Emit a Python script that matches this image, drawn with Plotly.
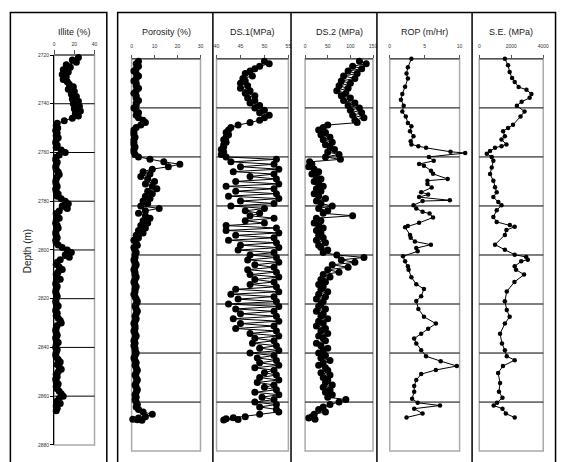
import plotly.graph_objects as go

W, H = 564, 462

# ---------------- data ----------------
DEPTH = list(range(2721, 2867))  # 1 m sampling grid for the dense logs

ILLITE = [
    24, 18, 22, 12, 16, 9, 14, 8, 12, 9,
    13, 15, 19, 14, 20, 17, 22, 18, 24, 19,
    25, 20, 26, 21, 24, 18, 10, 3, 2, 3.5,
    1.5, 3, 2, 4, 2, 1.5, 3, 2, 7, 11,
    5, 2, 1.5, 3, 2, 1.5, 2, 4, 5, 3,
    2, 1.5, 2, 3, 1.5, 2, 4, 3, 7, 11,
    14, 8, 13, 5, 2, 3, 5, 2, 1.5, 3,
    4, 2, 1.5, 2, 3, 1.5, 2, 4, 8, 13,
    17, 11, 15, 6, 3, 2, 5, 8, 4, 2,
    3, 6, 2, 1.5, 3, 2, 1.5, 2, 3, 2,
    1.5, 2, 4, 2, 1.5, 3, 2, 4, 6, 7,
    3, 2, 1.5, 2, 3, 1.5, 2, 4, 2, 1.5,
    3, 2, 1.5, 2, 4, 6, 3, 5, 7, 4,
    2, 3, 1.5, 2, 4, 2, 3, 5, 7, 9,
    5, 3, 6, 2, 3, 2,
]

POROSITY = [
    3, 2, 3, 2, 1, 2, 3, 2, 1, 2,
    2, 3, 2, 1, 2, 2, 3, 2, 2, 1,
    2, 3, 2, 3, 5, 6, 4, 2, 1, 1,
    1, 1.5, 1, 1, 1, 1.5, 1, 1, 1.5, 3,
    8, 14, 21, 16, 9, 5, 8, 4, 7, 10,
    6, 9, 11, 7, 9, 6, 8, 5, 7, 4,
    12, 6, 3, 6, 8, 5, 7, 4, 6, 3,
    5, 2, 3, 1, 2, 2.5, 1, 1.5, 2, 1.5,
    1.5, 1, 1.5, 2, 1.5, 1, 1.5, 1.5, 2, 1.5,
    1, 1.5, 2, 1.5, 1.5, 1, 1.5, 2, 2.5, 2,
    1.5, 2, 2.5, 2, 1.5, 2, 1.5, 1, 1.5, 1.5,
    1, 1.5, 2, 1.5, 1, 1.5, 1, 1.5, 1.5, 2,
    1.5, 1, 1.5, 2, 1.5, 2, 2.5, 2, 1.5, 2,
    2.5, 2, 1.5, 2, 2.5, 2, 1.5, 2, 1.5, 2,
    2.5, 2, 3, 5, 9, 6,
]
POROSITY_TAIL_DEPTH = [2866.5, 2867.0, 2867.2, 2867.4]
POROSITY_TAIL = [3, 0.5, 2.5, 4.5]

DS1 = [
    50, 51, 49, 48, 47, 46, 47.5, 45.5, 46, 45,
    46.5, 45, 47, 46, 48, 46.5, 48, 47, 49, 48,
    50, 49, 51, 50, 49, 47, 44.5, 43, 42.5, 42,
    42.5, 42, 41.5, 42, 41.5, 41.5, 41, 41.5, 41, 42,
    52.5, 43, 52, 45, 53, 43.5, 52, 47, 52.5, 44,
    53, 42, 52, 44, 52.5, 42.5, 53, 45, 52, 43,
    50, 46, 49, 47, 52, 46, 50, 42, 52.5, 42,
    53, 44, 52, 42.5, 52.5, 45, 53, 44.5, 52, 47,
    52.5, 46.5, 53, 48, 52, 46.5, 52.5, 47, 53, 48,
    52, 47, 52.5, 44, 53, 43, 52, 44.5, 52.5, 42.5,
    53, 44, 52, 45, 52.5, 43.5, 53, 45, 52, 44,
    52.5, 47, 53, 48, 52, 47.5, 52.5, 49, 53, 47,
    52, 48.5, 52.5, 49, 53, 48, 52, 50, 52.5, 49,
    53, 48.5, 52, 50, 52.5, 48, 53, 49.5, 52, 48,
    52.5, 49, 52.5, 53, 49, 46,
]
DS1_TAIL_DEPTH = [2866.4, 2866.8, 2867.1, 2867.3]
DS1_TAIL = [43.5, 42, 44.5, 41.5]

DS2 = [
    120, 135, 105, 125, 95, 115, 85, 110, 80, 100,
    75, 95, 70, 90, 80, 100, 85, 110, 95, 120,
    100, 125, 105, 130, 110, 115, 50, 40, 30, 45,
    35, 55, 40, 60, 45, 55, 65, 50, 75, 45,
    78, 10, 15, 8, 20, 30, 15, 25, 35, 20,
    30, 40, 25, 35, 20, 30, 45, 25, 35, 60,
    30, 50, 40, 105, 25, 35, 20, 30, 40, 25,
    35, 30, 40, 25, 45, 30, 35, 50, 40, 70,
    130, 80, 110, 60, 95, 50, 75, 40, 55, 35,
    45, 30, 40, 35, 50, 30, 45, 25, 40, 35,
    30, 45, 25, 40, 35, 50, 30, 40, 25, 45,
    35, 50, 30, 40, 45, 25, 35, 50, 40, 30,
    45, 35, 55, 40, 30, 45, 50, 35, 55, 40,
    50, 45, 60, 40, 55, 45, 60, 50, 90, 75,
    55, 40, 30, 45, 20, 15,
]
DS2_TAIL_DEPTH = [2866.5, 2867.0]
DS2_TAIL = [8, 22]

ROP_DEPTH = [
    2720.0, 2723.4, 2726.0, 2728.0, 2731.4, 2734.3, 2736.7, 2739.1, 2741.5, 2743.5,
    2746.2, 2747.5, 2749.5, 2751.6, 2753.6, 2754.9, 2755.6, 2756.3, 2757.9, 2758.4,
    2760.0, 2761.6, 2762.9, 2763.6, 2765.6, 2766.9, 2769.0, 2769.7, 2771.0, 2772.5,
    2774.4, 2775.3, 2776.4, 2777.7, 2778.0, 2779.7, 2781.0, 2782.4, 2783.1, 2784.7,
    2786.9, 2788.2, 2788.7, 2791.8, 2793.0, 2794.5, 2795.8, 2797.2, 2798.5, 2800.5,
    2802.6, 2804.6, 2806.0, 2809.1, 2811.9, 2813.9, 2816.8, 2818.8, 2822.0, 2825.2,
    2828.0, 2830.1, 2832.1, 2834.1, 2836.1, 2838.9, 2841.3, 2843.3, 2845.3, 2846.9,
    2848.6, 2851.0, 2853.4, 2855.8, 2858.6, 2860.3, 2861.4, 2862.7, 2864.7, 2866.3,
]
ROP = [
    3.1, 2.6, 2.4, 2.6, 2.2, 1.8, 1.6, 2.0, 1.8, 2.3,
    2.6, 3.1, 2.9, 3.4, 3.0, 3.1, 4.1, 5.2, 8.7, 10.8,
    5.6, 6.3, 4.2, 4.9, 5.9, 6.2, 8.3, 5.4, 5.4, 6.0,
    4.5, 5.5, 4.2, 8.6, 4.7, 3.4, 3.8, 4.7, 5.7, 6.2,
    4.2, 2.6, 2.2, 2.9, 3.0, 3.6, 5.9, 3.8, 4.0, 1.9,
    2.2, 2.6, 2.7, 3.1, 3.8, 4.9, 4.5, 3.8, 4.1, 4.9,
    6.6, 5.5, 4.5, 3.5, 3.8, 4.5, 5.2, 7.3, 9.6, 6.6,
    4.5, 3.8, 3.5, 3.5, 3.2, 4.0, 7.2, 3.5, 4.7, 2.4,
]

SE_DEPTH = [
    2720.0, 2722.6, 2725.4, 2727.8, 2729.4, 2731.5, 2732.6, 2734.3, 2735.9, 2737.5,
    2739.1, 2741.5, 2743.5, 2746.9, 2748.2, 2749.5, 2751.6, 2752.9, 2754.9, 2755.6,
    2756.3, 2757.6, 2758.7, 2760.0, 2761.6, 2764.3, 2767.0, 2769.7, 2772.4, 2774.4,
    2776.4, 2778.4, 2779.7, 2781.8, 2784.5, 2786.5, 2787.8, 2788.5, 2789.8, 2791.8,
    2795.8, 2797.9, 2799.9, 2800.8, 2801.9, 2802.6, 2804.6, 2806.0, 2808.0, 2811.0,
    2814.9, 2818.9, 2822.4, 2825.2, 2828.0, 2832.1, 2836.1, 2838.9, 2841.3, 2842.9,
    2845.3, 2848.1, 2852.2, 2855.8, 2858.2, 2860.3, 2861.4, 2862.7, 2864.7, 2866.3,
]
SE = [
    1600, 1800, 1900, 2050, 2215, 2460, 2950, 3260, 3150, 2650,
    2350, 2830, 2580, 2110, 1800, 1490, 1600, 1390, 1700, 1390,
    985, 675, 470, 780, 880, 780, 675, 880, 985, 1090,
    880, 1190, 1390, 1090, 880, 1090, 1910, 2215, 1700, 1600,
    985, 1600, 2215, 2935, 3035, 2625, 2215, 2300, 2800, 2200,
    1720, 1600, 1720, 1900, 1600, 1300, 1420, 1600, 1720, 2215,
    1480, 1180, 1300, 1230, 1450, 1110, 900, 1450, 1660, 2215,
]

TITLES = ["Illite (%)", "Porosity (%)", "DS.1(MPa)", "DS.2 (MPa)", "ROP (m/Hr)", "S.E. (MPa)"]
X_RANGES = [[0, 40], [0, 30], [40, 55], [0, 150], [0, 10], [0, 4000]]
X_TICKS = [[0, 20, 40], [0, 10, 20, 30], [40, 45, 50, 55], [0, 50, 100, 150], [0, 5, 10], [0, 2000, 4000]]
DEPTH_TICKS = [2720, 2740, 2760, 2780, 2800, 2820, 2840, 2860, 2880]
GRID_DEPTHS = [2740, 2760, 2780, 2800, 2820, 2840, 2860]
DEPTH_RANGE = [2880, 2720]

# ---------------- layout geometry (pixels) ----------------
# (left, right, top(2720), bottom(2880))
BOX = [
    (52.0, 93.0, 52.7, 447.7),
    (130.7, 200.7, 56.6, 454.0),
    (217.0, 290.0, 56.6, 454.0),
    (307.0, 376.0, 56.6, 454.0),
    (393.0, 464.0, 56.6, 454.0),
    (484.0, 549.0, 56.6, 454.0),
]
ROP_EXTRA = 0.9  # let the ROP curve run past the right border like the original
DENSE_MARKER = 7
SPARSE_MARKER = 4.5


def fx(x):
    return x / W


def fy(y):
    return 1 - y / H


FONT = "Liberation Sans, Arial, sans-serif"

fig = go.Figure()

series = [
    (ILLITE, DEPTH, DENSE_MARKER),
    (POROSITY + POROSITY_TAIL, DEPTH + POROSITY_TAIL_DEPTH, DENSE_MARKER),
    (DS1 + DS1_TAIL, DEPTH + DS1_TAIL_DEPTH, DENSE_MARKER),
    (DS2 + DS2_TAIL, DEPTH + DS2_TAIL_DEPTH, DENSE_MARKER),
    (ROP, ROP_DEPTH, SPARSE_MARKER),
    (SE, SE_DEPTH, SPARSE_MARKER),
]

shapes = []
annotations = []

for i, (vals, deps, msize) in enumerate(series):
    n = "" if i == 0 else str(i + 1)
    l, r, t, b = BOX[i]
    rng = list(X_RANGES[i])
    dom_r = r
    if i == 4:
        dom_r = r + ROP_EXTRA * (r - l) / (rng[1] - rng[0])
        rng = [rng[0], rng[1] + ROP_EXTRA]
    fig.add_trace(go.Scatter(
        x=vals, y=deps, mode="lines+markers",
        line=dict(color="black", width=1),
        marker=dict(color="black", size=msize),
        cliponaxis=False, showlegend=False,
        xaxis="x" + n, yaxis="y" + n,
    ))
    fig.layout["xaxis" + n] = dict(
        domain=[fx(l), fx(dom_r)], range=rng, side="top", anchor="y" + n,
        tickvals=X_TICKS[i], ticks="outside", ticklen=(4 if i == 0 else 2.5), tickwidth=1,
        tickcolor="#555", showline=False, showgrid=False, zeroline=False,
        tickfont=dict(family=FONT, size=5, color="#333"),
        ticklabelstandoff=(2 if i == 0 else 5), fixedrange=True,
    )
    ydict = dict(
        domain=[fy(b), fy(t)], range=DEPTH_RANGE, anchor="x" + n,
        showgrid=False, zeroline=False, fixedrange=True,
    )
    if i == 0:
        ydict.update(
            tickvals=DEPTH_TICKS, ticks="outside", ticklen=3, tickwidth=1,
            tickcolor="black", showline=True, linecolor="black", linewidth=1,
            tickfont=dict(family=FONT, size=5, color="#333"),
        )
    else:
        ydict.update(showticklabels=False, ticks="", showline=False)
    fig.layout["yaxis" + n] = ydict

    # plot-area border (gray) and dark top edge
    shapes.append(dict(type="rect", xref="paper", yref="paper",
                       x0=fx(l), x1=fx(r), y0=fy(b), y1=fy(t),
                       line=dict(color="#aaaaaa", width=1.5), layer="below"))
    shapes.append(dict(type="line", xref="paper", yref="paper",
                       x0=fx(l), x1=fx(r), y0=fy(t), y1=fy(t),
                       line=dict(color="#222222", width=1), layer="below"))
    # depth grid lines
    for d in GRID_DEPTHS:
        shapes.append(dict(type="line", xref="paper", yref="y" + n,
                           x0=fx(l), x1=fx(r), y0=d, y1=d,
                           line=dict(color="black", width=1), layer="below"))
    # title
    annotations.append(dict(text=TITLES[i], xref="paper", yref="paper",
                            x=fx((l + r) / 2), y=fy(29.5), showarrow=False,
                            xanchor="center", yanchor="middle",
                            font=dict(family=FONT, size=9, color="#222")))

# outer frames
frame = dict(color="black", width=1.5)
shapes.append(dict(type="rect", xref="paper", yref="paper",
                   x0=fx(7.5), x1=fx(105.5), y0=fy(H + 5), y1=fy(9.5), line=frame))
shapes.append(dict(type="rect", xref="paper", yref="paper",
                   x0=fx(116.5), x1=fx(561.5), y0=fy(H + 5), y1=fy(9.5), line=frame))
for xs in [213.3, 292.7, 380.0, 476.7]:
    shapes.append(dict(type="line", xref="paper", yref="paper",
                       x0=fx(xs), x1=fx(xs), y0=fy(H + 5), y1=fy(9.5), line=frame))

annotations.append(dict(text="Depth (m)", xref="paper", yref="paper",
                        x=fx(25), y=fy(252), showarrow=False, textangle=-90,
                        xanchor="center", yanchor="middle",
                        font=dict(family=FONT, size=10, color="#222")))

fig.update_layout(
    width=W, height=H, margin=dict(l=0, r=0, t=0, b=0),
    paper_bgcolor="white", plot_bgcolor="rgba(0,0,0,0)",
    shapes=shapes, annotations=annotations,
)

fig.write_html("out.html", config={"displayModeBar": False})
